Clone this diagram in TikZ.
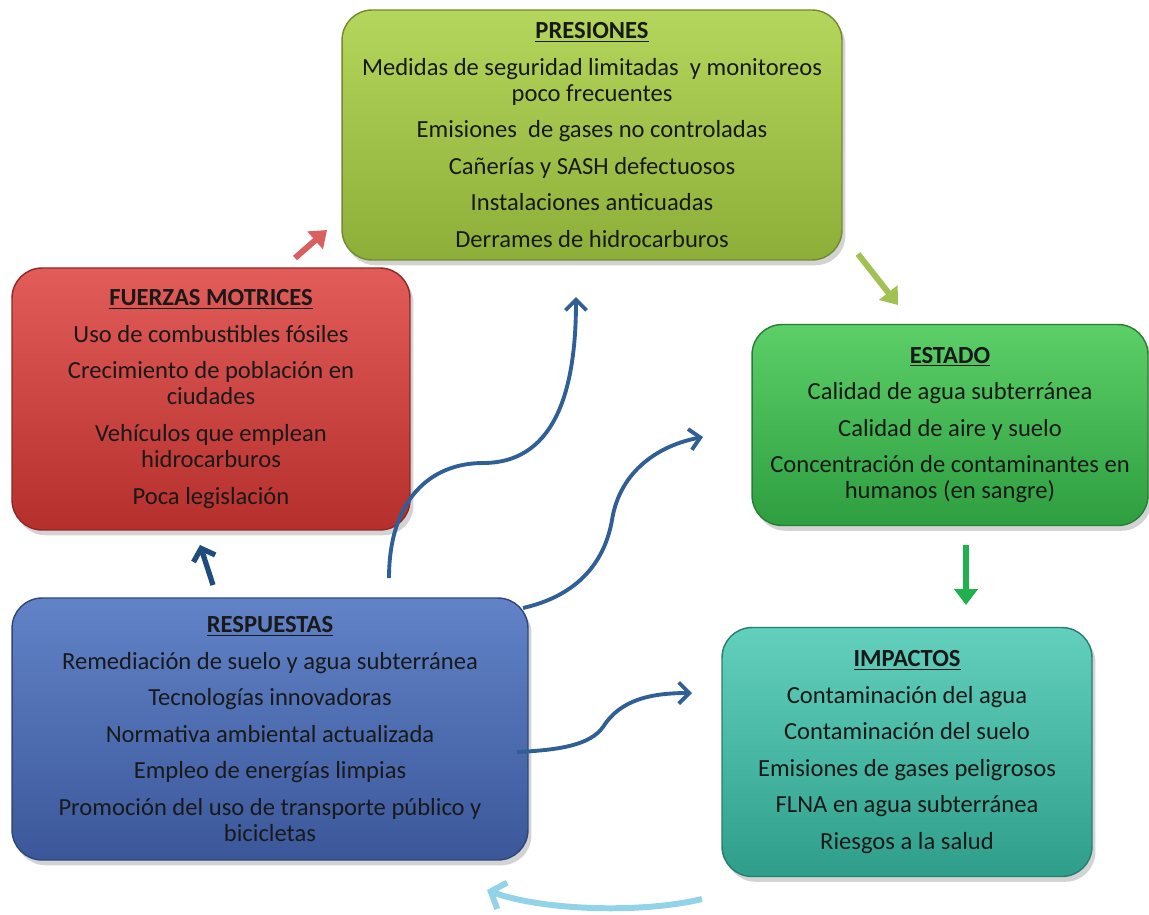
\documentclass[tikz,border=0pt]{standalone}
\usepackage{fontspec}
\setmainfont{Carlito}
\usetikzlibrary{arrows.meta,shadows}

\definecolor{presTop}{HTML}{B4D65C}
\definecolor{presBot}{HTML}{8DAE38}
\definecolor{fuerTop}{HTML}{E25D5A}
\definecolor{fuerBot}{HTML}{B5302D}
\definecolor{estTop}{HTML}{5CCF68}
\definecolor{estBot}{HTML}{2E9E40}
\definecolor{impTop}{HTML}{62D0BC}
\definecolor{impBot}{HTML}{2E9E8A}
\definecolor{resTop}{HTML}{6283C8}
\definecolor{resBot}{HTML}{3B579A}
\definecolor{curveBlue}{HTML}{2F5F95}
\definecolor{darkBlue}{HTML}{1F4C7C}
\definecolor{lightBlue}{HTML}{93D3E8}
\definecolor{redArrow}{HTML}{D9605F}
\definecolor{greenArrow}{HTML}{22B04F}

\begin{document}
\begin{tikzpicture}[
        x=0.02cm, y=-0.02cm,
        box/.style={
            rectangle,
            rounded corners=0.6cm,
            thick,
            align=center,
            text=black!90,
            font=\fontsize{14}{14.8}\selectfont,
            inner sep=4pt,
            drop shadow={opacity=0.35, shadow xshift=2pt, shadow yshift=-3pt}
        },
        arrow/.style={line width=3.4pt, -{Triangle[length=9pt, width=13pt]}},
        curve/.style={line width=2.2pt, draw=curveBlue, -{Straight Barb[length=6pt, width=12pt, line width=2.2pt]}}
    ]
    \useasboundingbox (0,0) rectangle (1149,914);

    % cajas
    \node[box, top color=presTop, bottom color=presBot, draw=presBot!80!black,
          minimum width=10cm, minimum height=5cm] (pres) at (592,135) {%
        \underline{\textbf{PRESIONES}}\\[6pt]
        Medidas de seguridad limitadas~ y monitoreos\\poco frecuentes\\[6pt]
        Emisiones~ de gases no controladas\\[6pt]
        Cañerías y SASH defectuosos\\[6pt]
        Instalaciones anticuadas\\[6pt]
        Derrames de hidrocarburos};

    \node[box, top color=fuerTop, bottom color=fuerBot, draw=fuerBot!80!black,
          minimum width=7.96cm, minimum height=5.24cm] (fuer) at (211,399) {%
        \underline{\textbf{FUERZAS MOTRICES}}\\[6pt]
        Uso de combustibles fósiles\\[6pt]
        Crecimiento de población en\\ciudades\\[6pt]
        Vehículos que emplean\\hidrocarburos\\[6pt]
        Poca legislación};

    \node[box, top color=estTop, bottom color=estBot, draw=estBot!80!black,
          minimum width=7.92cm, minimum height=4.02cm] (est) at (950,425) {%
        \underline{\textbf{ESTADO}}\\[6pt]
        Calidad de agua subterránea\\[6pt]
        Calidad de aire y suelo\\[6pt]
        Concentración de contaminantes en\\humanos (en sangre)};

    \node[box, top color=impTop, bottom color=impBot, draw=impBot!80!black,
          minimum width=7.4cm, minimum height=4.98cm] (imp) at (907,752) {%
        \underline{\textbf{IMPACTOS}}\\[6pt]
        Contaminación del agua\\[6pt]
        Contaminación del suelo\\[6pt]
        Emisiones de gases peligrosos\\[6pt]
        FLNA en agua subterránea\\[6pt]
        Riesgos a la salud};

    \node[box, top color=resTop, bottom color=resBot, draw=resBot!80!black,
          minimum width=10.32cm, minimum height=5.24cm] (res) at (270,729) {%
        \underline{\textbf{RESPUESTAS}}\\[6pt]
        Remediación de suelo y agua subterránea\\[6pt]
        Tecnologías innovadoras\\[6pt]
        Normativa ambiental actualizada\\[6pt]
        Empleo de energías limpias\\[6pt]
        Promoción del uso de transporte público y\\bicicletas};

    % extremos de las flechas
    \coordinate (fuerOut) at (295,258);
    \coordinate (presIn)  at (327,230);
    \coordinate (presOut) at (858,254);
    \coordinate (estIn)   at (898,305);
    \coordinate (estOut)  at (966,545);
    \coordinate (impIn)   at (966,605);
    \coordinate (impOut)  at (702,899);
    \coordinate (resIn)   at (487,890);
    \coordinate (resUp)   at (213,585);
    \coordinate (fuerIn)  at (200,545);
    \coordinate (resA)    at (389,578);
    \coordinate (presTip) at (576,297);
    \coordinate (resB)    at (523,608);
    \coordinate (estTip)  at (703,437);
    \coordinate (resC)    at (517,752);
    \coordinate (impTip)  at (692,693);

    % ciclo
    \draw[arrow, draw=redArrow] (fuerOut) -- (presIn);
    \draw[arrow, draw=presTop!90!black] (presOut) -- (estIn);
    \draw[arrow, draw=greenArrow] (estOut) -- (impIn);
    \draw[arrow, draw=lightBlue, -{Straight Barb[length=7pt, width=16pt, line width=3.4pt]}]
        (impOut) .. controls (640,914) and (540,910) .. (resIn);
    \draw[line width=3pt, draw=darkBlue, -{Straight Barb[length=6pt, width=13pt, line width=3pt]}]
        (resUp) -- (fuerIn);

    % respuestas
    \draw[curve] (resA) .. controls (389,500) and (430,463) .. (483,463)
                 .. controls (560,463) and (576,380) .. (presTip);
    \draw[curve] (resB) .. controls (580,595) and (605,560) .. (612,520)
                 .. controls (620,470) and (660,445) .. (estTip);
    \draw[curve] (resC) .. controls (560,750) and (590,745) .. (603,727)
                 .. controls (620,700) and (650,693) .. (impTip);

\end{tikzpicture}
\end{document}
